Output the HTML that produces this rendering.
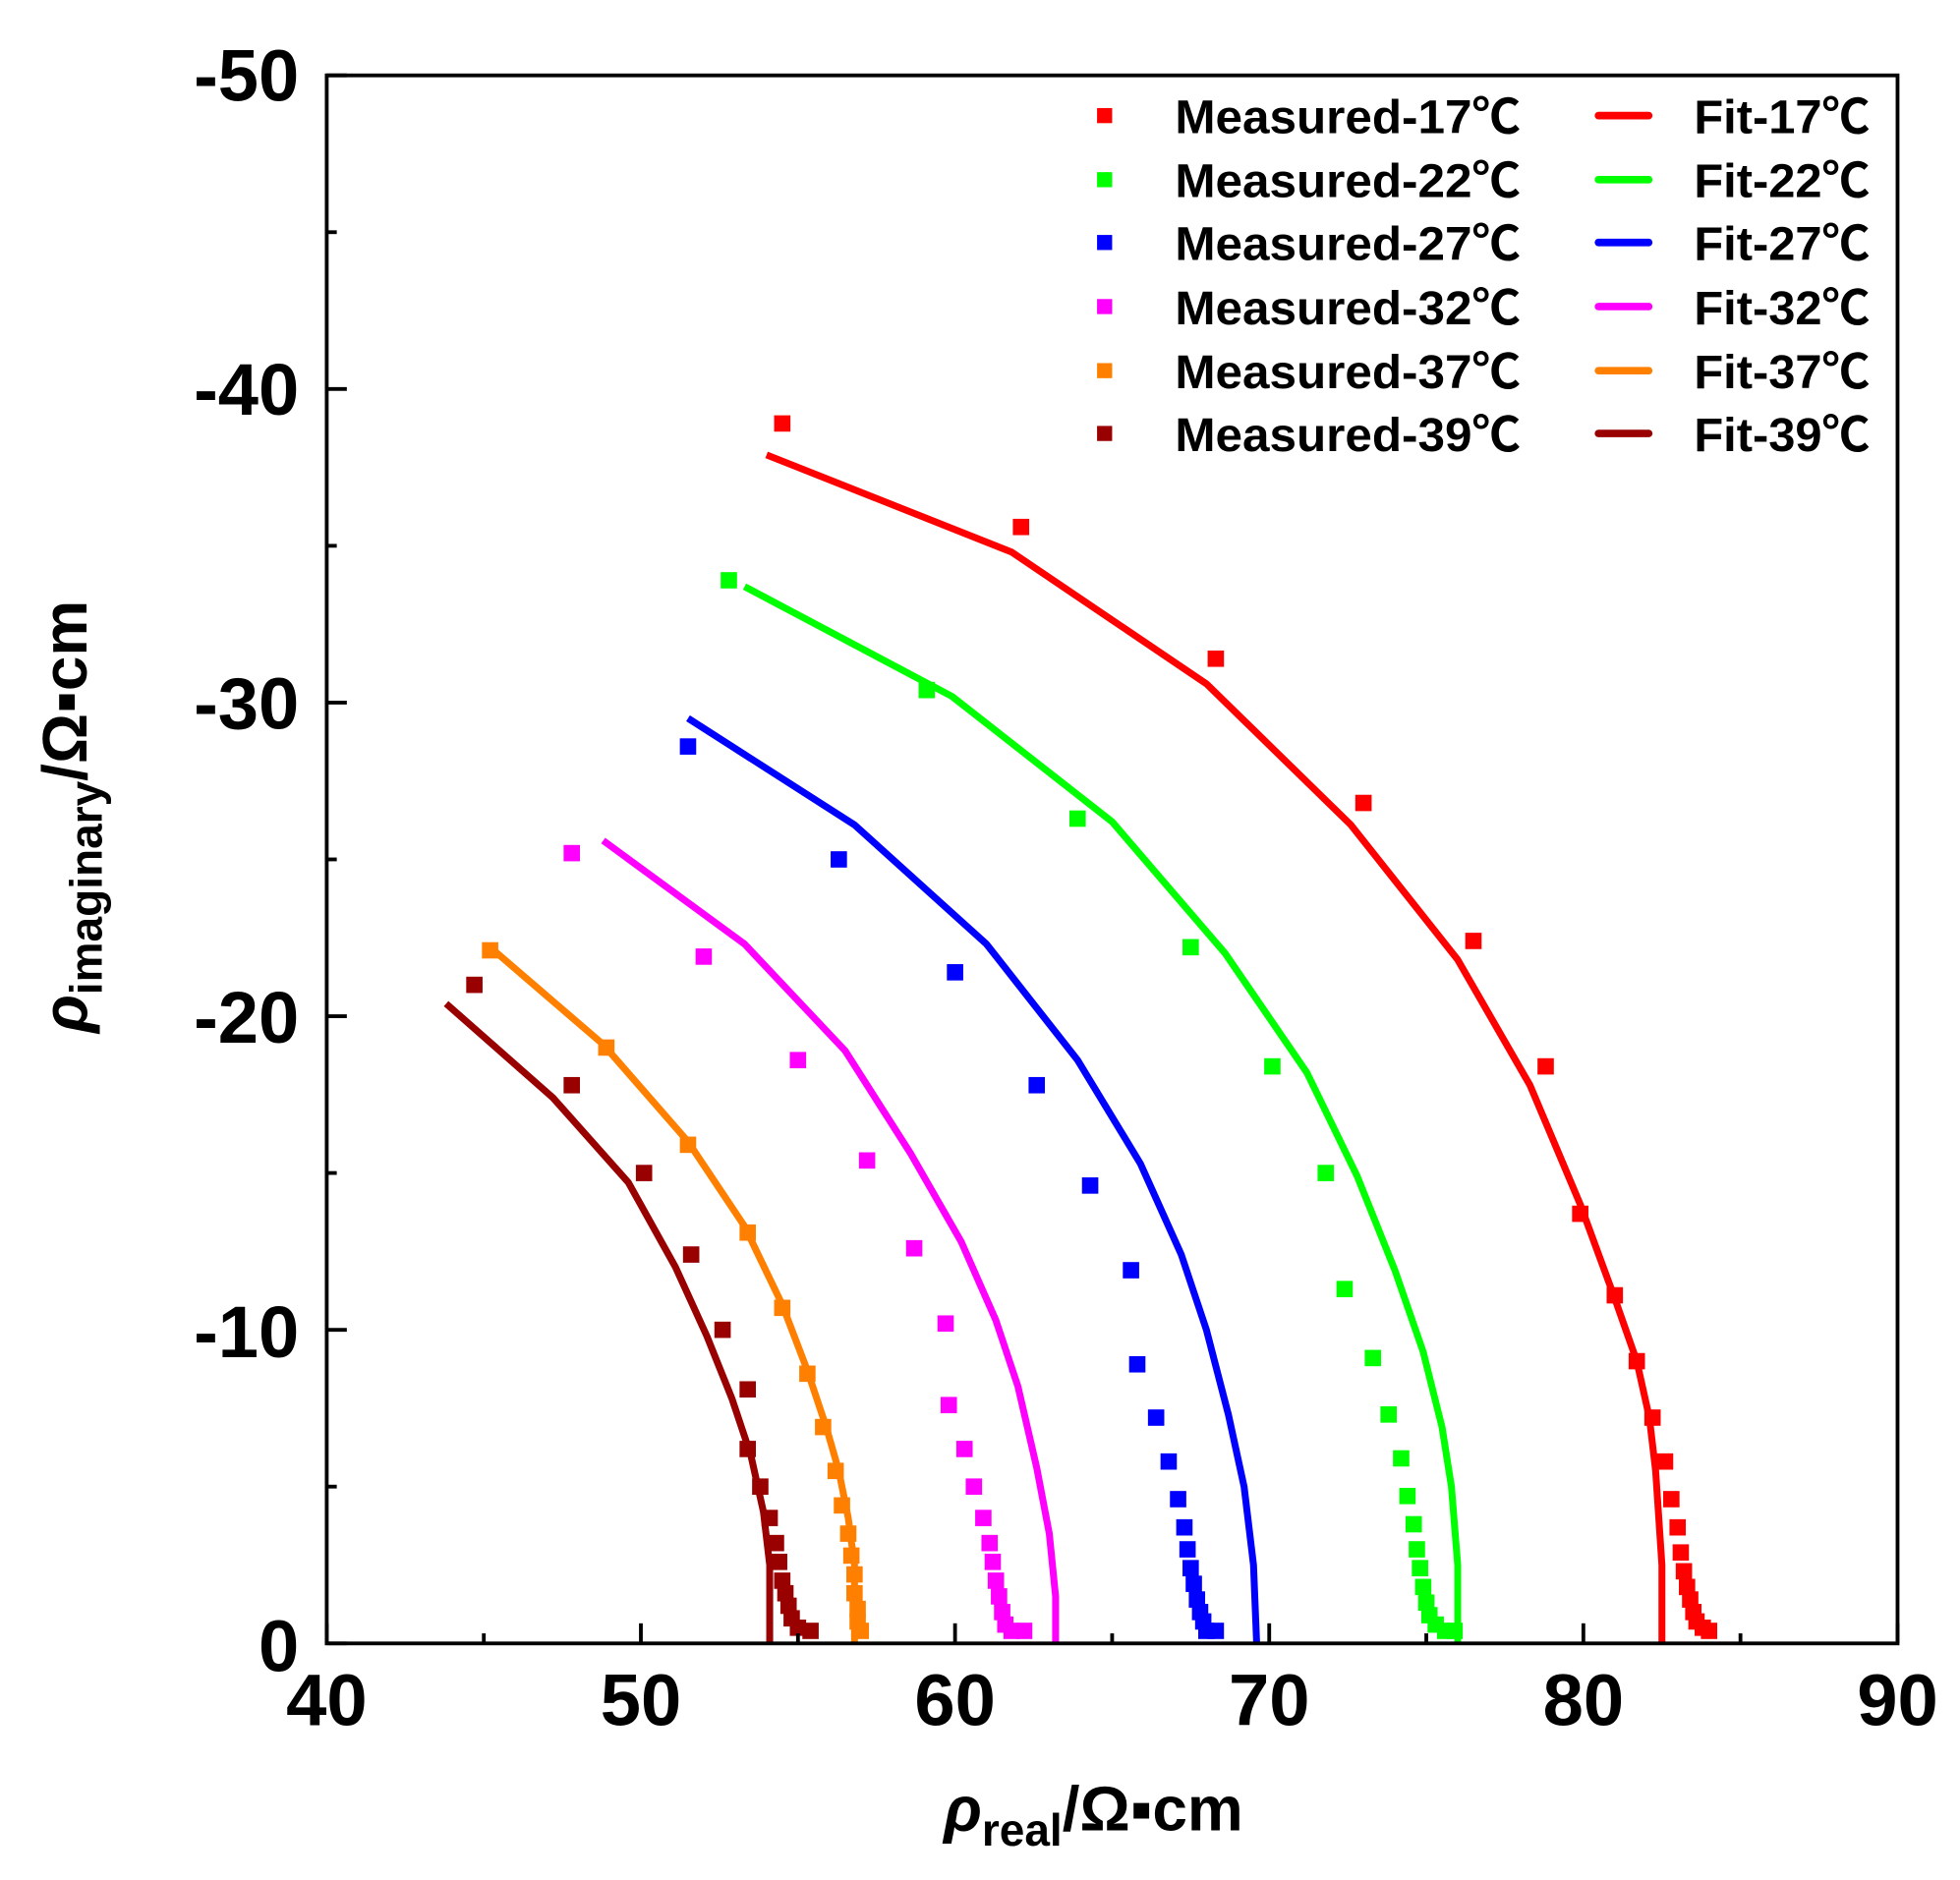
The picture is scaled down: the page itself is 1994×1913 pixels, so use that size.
<!DOCTYPE html>
<html><head><meta charset="utf-8"><style>
html,body{margin:0;padding:0;background:#fff}
svg{display:block}
text{font-family:"Liberation Sans","Noto Sans CJK SC",sans-serif;font-weight:bold;fill:#000}
</style></head><body>
<svg id="s" width="1994" height="1913" viewBox="0 0 1559.7 1496.3" preserveAspectRatio="none" xmlns="http://www.w3.org/2000/svg">
<rect x="0" y="0" width="1559.7" height="1496.3" fill="#fff"/>
<g id="plot"></g>
<rect x="260" y="60" width="1250" height="1248" fill="none" stroke="#000" stroke-width="3"/>
<g id="ticks" stroke="#000" stroke-width="3"></g>
<g font-size="58" text-anchor="end">
<text x="238" y="80">-50</text>
<text x="238" y="330">-40</text>
<text x="238" y="580">-30</text>
<text x="238" y="830">-20</text>
<text x="238" y="1080">-10</text>
<text x="238" y="1330">0</text>
</g>
<g font-size="58" text-anchor="middle">
<text x="260" y="1373">40</text>
<text x="510" y="1373">50</text>
<text x="760" y="1373">60</text>
<text x="1010" y="1373">70</text>
<text x="1260" y="1373">80</text>
<text x="1510" y="1373">90</text>
</g>
<text x="751" y="1457" font-size="50"><tspan font-style="italic">ρ</tspan><tspan font-size="36" dy="12">real</tspan><tspan dy="-12">/Ω▪cm</tspan></text>
<text transform="translate(69,822) rotate(-90)" font-size="50"><tspan font-style="italic">ρ</tspan><tspan font-size="36" dy="12">imaginary</tspan><tspan dy="-12">/Ω▪cm</tspan></text>
<g id="legend" font-size="38"></g>
</svg>
<script>
const X=v=>260+25*(v-40), Y=v=>1308-24.96*v;
const S=[
["#ff0000","17",
[[54.5,38.9],[62.1,35.6],[68.3,31.4],[73,26.8],[76.5,22.4],[78.8,18.4],[79.9,13.7],[81,11.1],[81.7,9],[82.2,7.2],[82.6,5.8],[82.8,4.6],[83,3.7],[83.1,2.9],[83.2,2.3],[83.3,1.8],[83.4,1.4],[83.5,1],[83.6,0.7],[83.8,0.5],[84,0.4]],
[[54,37.9],[61.8,34.8],[68,30.6],[72.6,26.1],[76,21.8],[78.3,17.8],[79.9,14],[81,11],[81.7,9],[82.1,7.2],[82.3,5.5],[82.4,4],[82.5,2.5],[82.5,0]]],
["#00ff00","22",
[[52.8,33.9],[59.1,30.4],[63.9,26.3],[67.5,22.2],[70.1,18.4],[71.8,15],[72.4,11.3],[73.3,9.1],[73.8,7.3],[74.2,5.9],[74.4,4.7],[74.6,3.8],[74.7,3],[74.8,2.4],[74.9,1.8],[75,1.3],[75.1,0.9],[75.3,0.6],[75.6,0.4],[75.9,0.4]],
[[53.3,33.7],[59.9,30.2],[65,26.2],[68.6,22],[71.2,18.2],[72.8,14.9],[74,11.9],[74.9,9.3],[75.5,6.9],[75.8,5],[76,2.5],[76,0]]],
["#0000ff","27",
[[51.5,28.6],[56.3,25],[60,21.4],[62.6,17.8],[64.3,14.6],[65.6,11.9],[65.8,8.9],[66.4,7.2],[66.8,5.8],[67.1,4.6],[67.3,3.7],[67.4,3],[67.5,2.4],[67.6,1.9],[67.7,1.4],[67.8,1],[67.9,0.7],[68,0.4],[68.3,0.4]],
[[51.5,29.5],[56.8,26.1],[61,22.3],[63.9,18.6],[65.9,15.3],[67.2,12.4],[68,10],[68.7,7.3],[69.2,5],[69.5,2.5],[69.6,0]]],
["#ff00ff","32",
[[47.8,25.2],[52,21.9],[55,18.6],[57.2,15.4],[58.7,12.6],[59.7,10.2],[59.8,7.6],[60.3,6.2],[60.6,5],[60.9,4],[61.1,3.2],[61.2,2.6],[61.3,2],[61.4,1.5],[61.5,1],[61.6,0.6],[61.8,0.4],[62.2,0.4]],
[[48.8,25.6],[53.3,22.3],[56.5,18.9],[58.6,15.6],[60.2,12.8],[61.3,10.3],[62,8.2],[62.6,5.6],[63,3.5],[63.2,1.5],[63.2,0]]],
["#ff8000","37",
[[45.2,22.1],[48.9,19],[51.5,15.9],[53.4,13.1],[54.5,10.7],[55.3,8.6],[55.8,6.9],[56.2,5.5],[56.4,4.4],[56.6,3.5],[56.7,2.8],[56.8,2.2],[56.8,1.6],[56.9,1.1],[56.9,0.7],[57,0.4]],
[[45.2,22.2],[48.8,19.1],[51.5,16],[53.3,13.3],[54.5,10.8],[55.3,8.7],[55.9,6.9],[56.3,5.5],[56.6,4],[56.8,2.5],[56.8,0]]],
["#990000","39",
[[44.7,21],[47.8,17.8],[50.1,15],[51.6,12.4],[52.6,10],[53.4,8.1],[53.4,6.2],[53.8,5],[54.1,4],[54.3,3.2],[54.4,2.6],[54.5,2],[54.6,1.6],[54.7,1.2],[54.8,0.8],[55,0.5],[55.4,0.4]],
[[43.8,20.4],[47.2,17.4],[49.6,14.7],[51.1,12],[52.1,9.8],[52.9,7.8],[53.5,6],[53.9,4.2],[54.1,2.5],[54.1,0]]]
];
const NS="http://www.w3.org/2000/svg";
const mk=(t,a,p)=>{const e=document.createElementNS(NS,t);for(const k in a)e.setAttribute(k,a[k]);p.appendChild(e);return e;};
const plot=document.getElementById("plot"),tk=document.getElementById("ticks"),lg=document.getElementById("legend");
S.forEach(([c,n,m,f])=>{
  m.forEach(([x,y])=>mk("rect",{x:X(x)-6.5,y:Y(y)-6.5,width:13,height:13,fill:c},plot));
  mk("polyline",{points:f.map(([x,y])=>X(x)+","+Y(y)).join(" "),fill:"none",stroke:c,"stroke-width":5.5,"stroke-linejoin":"round"},plot);
});
for(let v=40;v<=90;v+=5){const x=X(v),L=v%10?8:16;mk("line",{x1:x,y1:1308,x2:x,y2:1308-L},tk);}
for(let v=0;v<=50;v+=5){const y=Y(v),L=v%10?8:16;mk("line",{x1:260,y1:y,x2:260+L,y2:y},tk);}
const rows=[92,143,193,244,295,345];
S.forEach(([c,n],i)=>{const y=rows[i];
  mk("rect",{x:873,y:y-6,width:12,height:12,fill:c},lg);
  const t=mk("text",{x:935,y:y+14,textLength:275,lengthAdjust:"spacingAndGlyphs"},lg);t.textContent="Measured-"+n+"℃";
  mk("line",{x1:1272,y1:y,x2:1312,y2:y,stroke:c,"stroke-width":6,"stroke-linecap":"round"},lg);
  const t2=mk("text",{x:1348,y:y+14,textLength:140,lengthAdjust:"spacingAndGlyphs"},lg);t2.textContent="Fit-"+n+"℃";
});
</script>
</body></html>
